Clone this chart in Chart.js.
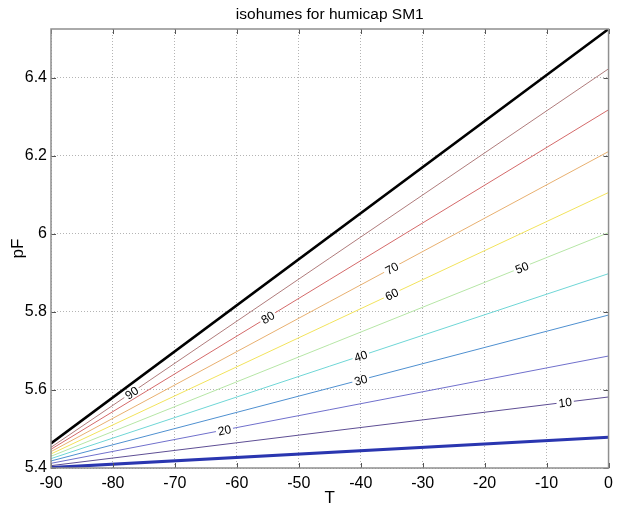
<!DOCTYPE html>
<html lang="en">
<head>
    <meta charset="UTF-8">
    <title>isohumes for humicap SM1</title>
    <style>
        body {
            margin: 0;
            background-color: #fff;
        }
    </style>
    <script src="https://cdn.jsdelivr.net/npm/chart.js"></script>
</head>
<body>

    <canvas id="isohumeChart" width="619" height="506"></canvas>

    <script>
        // relative humidity levels (%), one straight isohume each
        var rhLevels = [100, 90, 80, 70, 60, 50, 40, 30, 20, 10, 0];
        // T end points of every line
        var tStart = -90;
        var tEnd = 0;
        // pF read at T = -90 and T = 0
        var pfAtStart = [5.463, 5.453, 5.448, 5.442, 5.436, 5.430, 5.424, 5.418, 5.412, 5.406, 5.401];
        var pfAtEnd = [6.525, 6.423, 6.318, 6.211, 6.106, 6.003, 5.898, 5.792, 5.687, 5.582, 5.479];

        // contour labels: which level and at which T
        var labelLevels = [90, 80, 70, 60, 50, 40, 30, 20, 10];
        var labelT = [-77, -55, -35, -35, -14, -40, -40, -62, -7];

        var xTicks = [-90, -80, -70, -60, -50, -40, -30, -20, -10, 0];
        var yTicks = [5.4, 5.6, 5.8, 6.0, 6.2, 6.4];

        var chartTitle = 'isohumes for humicap SM1';

        var lineColors = ['#000000', '#b07c7c', '#d46a6a', '#e8b070', '#f2e35c', '#b6e6a6',
                          '#6fd6d6', '#4f90d0', '#7070cc', '#5e4e94', '#2a36b0'];
        var lineWidths = [2.5, 1, 1, 1, 1, 1, 1, 1, 1, 1, 3];

        var fontFamily = "'Liberation Sans', Arial, Helvetica, sans-serif";

        var datasets = rhLevels.map(function (rh, i) {
            return {
                label: rh + ' %',
                data: [{ x: tStart, y: pfAtStart[i] }, { x: tEnd, y: pfAtEnd[i] }],
                borderColor: lineColors[i],
                borderWidth: lineWidths[i],
                pointRadius: 0,
                fill: false,
                tension: 0
            };
        });

        // labels sit on their line, rotated along it, with a white patch behind
        var contourLabels = {
            id: 'contourLabels',
            afterDatasetsDraw: function (chart) {
                var ctx = chart.ctx;
                var xs = chart.scales.x, ys = chart.scales.y;
                ctx.save();
                ctx.font = '12px ' + fontFamily;
                ctx.textAlign = 'center';
                ctx.textBaseline = 'middle';
                labelLevels.forEach(function (level, k) {
                    var i = rhLevels.indexOf(level);
                    var d = chart.data.datasets[i].data;
                    var x1 = xs.getPixelForValue(d[0].x), y1 = ys.getPixelForValue(d[0].y);
                    var x2 = xs.getPixelForValue(d[1].x), y2 = ys.getPixelForValue(d[1].y);
                    var px = xs.getPixelForValue(labelT[k]);
                    var py = y1 + (y2 - y1) * (px - x1) / (x2 - x1);
                    var angle = Math.atan2(y2 - y1, x2 - x1);
                    var text = String(level);
                    var w = ctx.measureText(text).width;
                    ctx.save();
                    ctx.translate(px, py);
                    ctx.rotate(angle);
                    ctx.fillStyle = '#fff';
                    ctx.fillRect(-w / 2 - 2, -5, w + 4, 10);
                    ctx.fillStyle = '#000';
                    ctx.fillText(text, 0, 1);
                    ctx.restore();
                });
                ctx.restore();
            }
        };

        // matlab style box with tick marks pointing inward, title centred over the axes
        var axesBox = {
            id: 'axesBox',
            afterDraw: function (chart) {
                var ctx = chart.ctx;
                var a = chart.chartArea;
                var xs = chart.scales.x, ys = chart.scales.y;
                ctx.save();
                ctx.strokeStyle = '#555';
                ctx.lineWidth = 1;
                ctx.beginPath();
                xTicks.forEach(function (t) {
                    var px = Math.round(xs.getPixelForValue(t)) + 0.5;
                    ctx.moveTo(px, a.bottom); ctx.lineTo(px, a.bottom - 5);
                    ctx.moveTo(px, a.top); ctx.lineTo(px, a.top + 5);
                });
                yTicks.forEach(function (v) {
                    var py = Math.round(ys.getPixelForValue(v)) + 0.5;
                    ctx.moveTo(a.left, py); ctx.lineTo(a.left + 5, py);
                    ctx.moveTo(a.right, py); ctx.lineTo(a.right - 5, py);
                });
                ctx.stroke();
                ctx.strokeStyle = '#8f8f8f';
                ctx.lineWidth = 1.5;
                ctx.strokeRect(a.left, a.top, a.right - a.left, a.bottom - a.top);

                ctx.fillStyle = '#000';
                ctx.font = '15.5px ' + fontFamily;
                ctx.textAlign = 'center';
                ctx.textBaseline = 'alphabetic';
                ctx.fillText(chartTitle, (a.left + a.right) / 2, 19);
                ctx.restore();
            }
        };

        var ctx = document.getElementById('isohumeChart').getContext('2d');
        var chart = new Chart(ctx, {
            type: 'line',
            data: { datasets: datasets },
            plugins: [contourLabels, axesBox],
            options: {
                responsive: false,
                animation: false,
                layout: { padding: { top: 29, right: 7 } },
                plugins: {
                    legend: { display: false },
                    tooltip: { enabled: false },
                    title: { display: false }
                },
                scales: {
                    x: {
                        type: 'linear',
                        min: -90,
                        max: 0,
                        afterBuildTicks: function (scale) {
                            scale.ticks = xTicks.map(function (v) { return { value: v }; });
                        },
                        afterFit: function (scale) { scale.height = 38; },
                        ticks: {
                            color: '#000',
                            padding: 6,
                            maxRotation: 0,
                            font: { family: fontFamily, size: 16 },
                            callback: function (v) { return String(v); }
                        },
                        grid: { color: '#b4b4b4', lineWidth: 1, drawTicks: false },
                        border: { display: false, dash: [1, 2] },
                        title: {
                            display: true,
                            text: 'T',
                            color: '#000',
                            font: { family: fontFamily, size: 17 },
                            padding: { top: 0, bottom: -3 }
                        }
                    },
                    y: {
                        type: 'linear',
                        min: 5.4,
                        max: 6.525,
                        afterBuildTicks: function (scale) {
                            scale.ticks = yTicks.map(function (v) { return { value: v }; });
                        },
                        afterFit: function (scale) { scale.width = 51; },
                        ticks: {
                            color: '#000',
                            padding: 4,
                            font: { family: fontFamily, size: 16 },
                            callback: function (v) { return String(Math.round(v * 10) / 10); }
                        },
                        grid: { color: '#b4b4b4', lineWidth: 1, drawTicks: false },
                        border: { display: false, dash: [1, 2] },
                        title: {
                            display: true,
                            text: 'pF',
                            color: '#000',
                            font: { family: fontFamily, size: 17 },
                            padding: { top: 8, bottom: 0 }
                        }
                    }
                }
            }
        });
    </script>

</body>
</html>
